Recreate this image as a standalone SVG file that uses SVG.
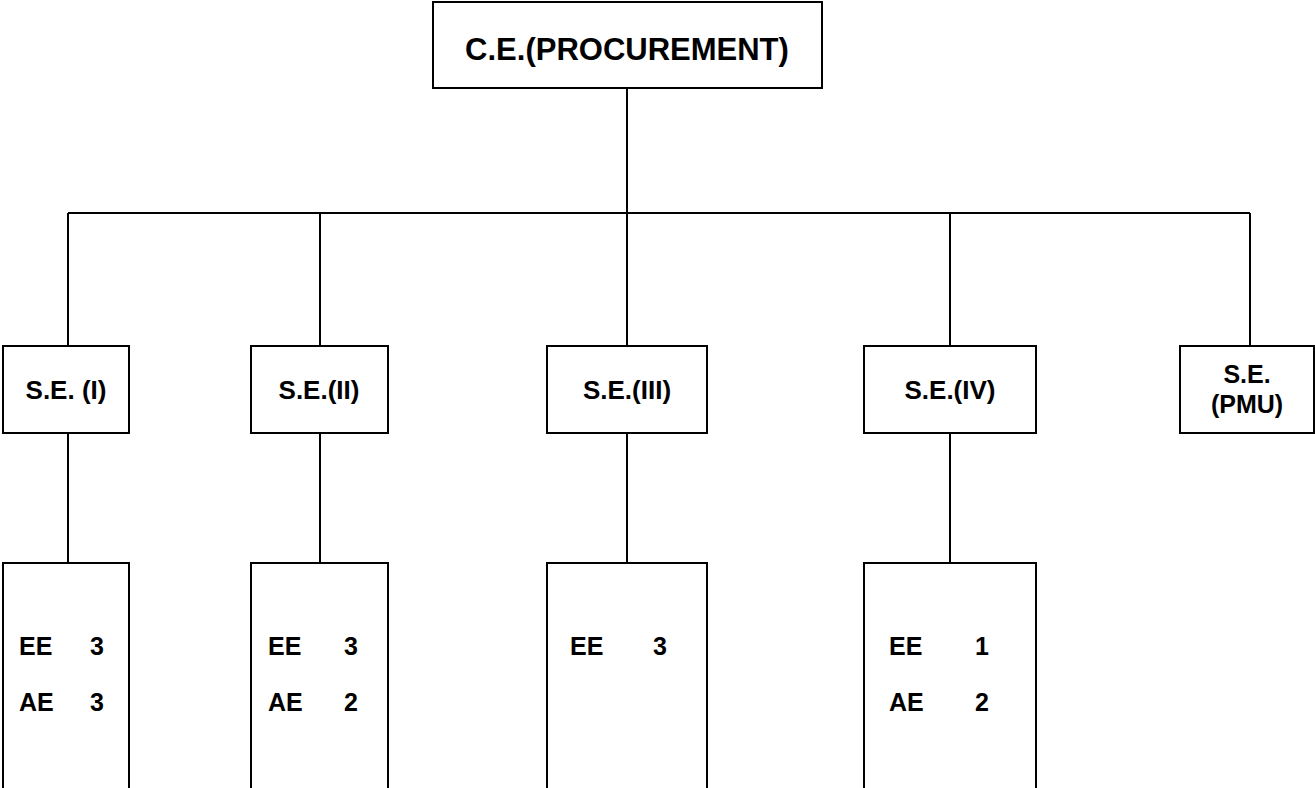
<svg xmlns="http://www.w3.org/2000/svg" width="1315" height="788" viewBox="0 0 1315 788">
<style>
.box{fill:#fff;stroke:#000;stroke-width:2}
.ln{stroke:#000;stroke-width:2;fill:none}
text{font-family:"Liberation Sans",Arial,sans-serif;font-weight:bold;fill:#000}
.t1{font-size:31px;text-anchor:middle}
.t2{font-size:26px;text-anchor:middle}
.tp{font-size:25px;text-anchor:middle}
.t3{font-size:25px}
</style>
<rect width="1315" height="788" fill="#fff"/>
<g id="connectors">
<path class="ln" d="M627,88 V213 M68,213 H1250 M68,213 V346 M320,213 V346 M627,213 V346 M950,213 V346 M1250,213 V346"/>
<path class="ln" d="M68,433 V563 M320,433 V563 M627,433 V563 M950,433 V563"/>
</g>
<g id="ce"><rect class="box" x="433" y="2" width="389" height="86"/><text class="t1" x="627" y="60">C.E.(PROCUREMENT)</text></g>
<g id="se1"><rect class="box" x="3" y="346" width="126" height="87"/><text class="t2" x="66" y="399">S.E. (I)</text></g>
<g id="se2"><rect class="box" x="251" y="346" width="137" height="87"/><text class="t2" x="319" y="399">S.E.(II)</text></g>
<g id="se3"><rect class="box" x="547" y="346" width="160" height="87"/><text class="t2" x="627" y="399">S.E.(III)</text></g>
<g id="se4"><rect class="box" x="864" y="346" width="172" height="87"/><text class="t2" x="950" y="399">S.E.(IV)</text></g>
<g id="sepmu"><rect class="box" x="1180" y="346" width="134" height="87"/><text class="tp" x="1247" y="383">S.E.</text><text class="tp" x="1247" y="413">(PMU)</text></g>
<g id="b1"><rect class="box" x="3" y="563" width="126" height="240"/><text class="t3" x="19" y="655">EE</text><text class="t3" x="90" y="655">3</text><text class="t3" x="19" y="711">AE</text><text class="t3" x="90" y="711">3</text></g>
<g id="b2"><rect class="box" x="251" y="563" width="137" height="240"/><text class="t3" x="268" y="655">EE</text><text class="t3" x="344" y="655">3</text><text class="t3" x="268" y="711">AE</text><text class="t3" x="344" y="711">2</text></g>
<g id="b3"><rect class="box" x="547" y="563" width="160" height="240"/><text class="t3" x="570" y="655">EE</text><text class="t3" x="653" y="655">3</text></g>
<g id="b4"><rect class="box" x="864" y="563" width="172" height="240"/><text class="t3" x="889" y="655">EE</text><text class="t3" x="975" y="655">1</text><text class="t3" x="889" y="711">AE</text><text class="t3" x="975" y="711">2</text></g>
</svg>
